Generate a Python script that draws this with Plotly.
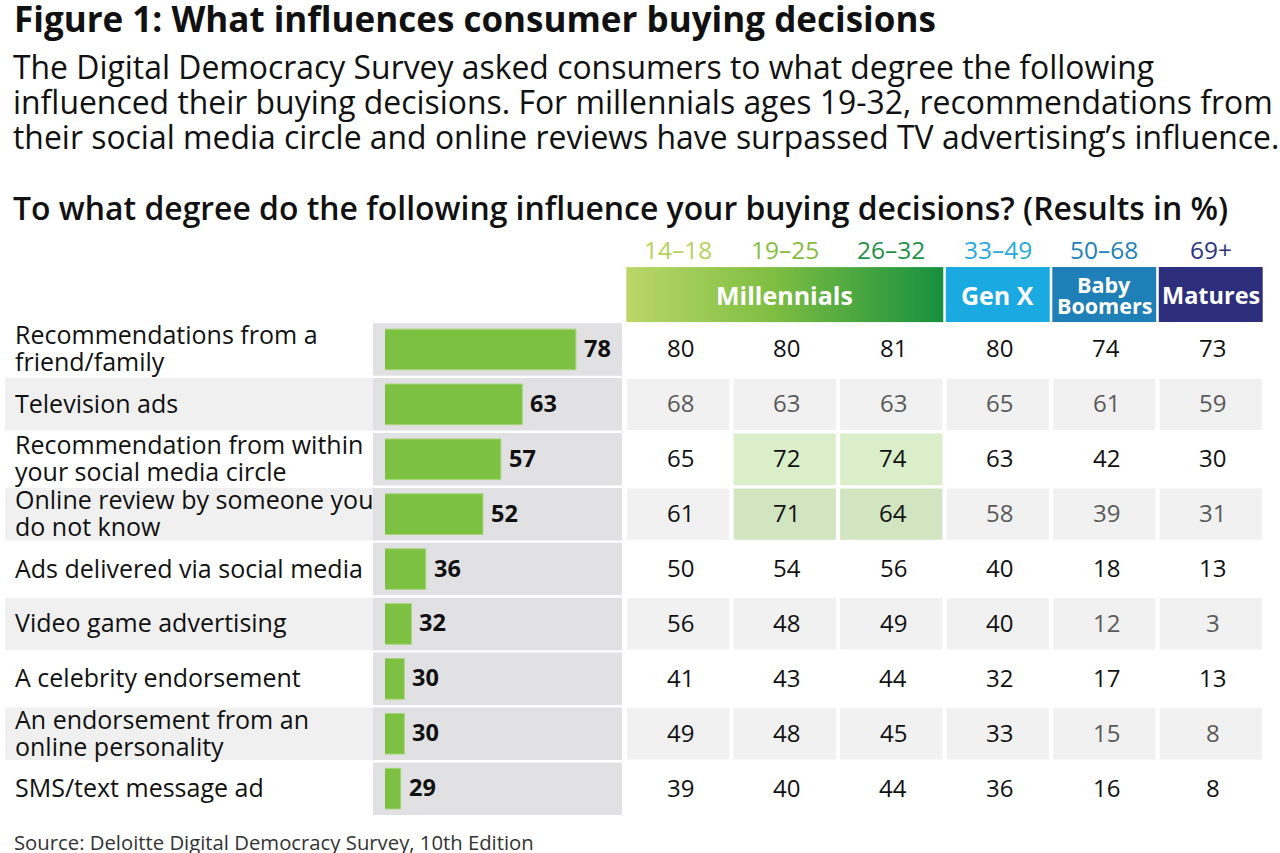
import plotly.graph_objects as go

W, H = 1280, 853

# ---------------- data ----------------
factors = [
    "Recommendations from a<br>friend/family",
    "Television ads",
    "Recommendation from within<br>your social media circle",
    "Online review by someone you<br>do not know",
    "Ads delivered via social media",
    "Video game advertising",
    "A celebrity endorsement",
    "An endorsement from an<br>online personality",
    "SMS/text message ad",
]
overall = [78, 63, 57, 52, 36, 32, 30, 30, 29]

age_groups = ["14–18", "19–25", "26–32", "33–49", "50–68", "69+"]
age_14_18 = [80, 68, 65, 61, 50, 56, 41, 49, 39]
age_19_25 = [80, 63, 72, 71, 54, 48, 43, 48, 40]
age_26_32 = [81, 63, 74, 64, 56, 49, 44, 45, 44]
age_33_49 = [80, 65, 63, 58, 40, 40, 32, 33, 36]
age_50_68 = [74, 61, 42, 39, 18, 12, 17, 15, 16]
age_69_plus = [73, 59, 30, 31, 13, 3, 13, 8, 8]

generations = ["Millennials", "Gen X", "Baby<br>Boomers", "Matures"]
generation_cols = [(0, 2), (3, 3), (4, 4), (5, 5)]

title = "Figure 1: What influences consumer buying decisions"
subtitle_lines = [
    "The Digital Democracy Survey asked consumers to what degree the following",
    "influenced their buying decisions. For millennials ages 19-32, recommendations from",
    "their social media circle and online reviews have surpassed TV advertising’s influence.",
]
question = "To what degree do the following influence your buying decisions? (Results in %)"
source = "Source: Deloitte Digital Democracy Survey, 10th Edition"

# ---------------- styles ----------------
FONT = "Open Sans"
age_colors = ["#b3d25a", "#86bd3f", "#1f9146", "#27a9e1", "#2181b8", "#2d3482"]
gen_colors = [None, "#1aa9e1", "#1f80b7", "#2d2f7c"]
gen_font_sizes = [25, 25, 21.5, 23.5]
shaded_rows = [1, 3, 5, 7]
muted_cells = {1: [0, 1, 2, 3, 4, 5], 3: [3, 4, 5], 5: [4, 5], 7: [4, 5]}
highlight_cells = {(2, 1): "#d9eec9", (2, 2): "#d9eec9", (3, 1): "#d1e5c1", (3, 2): "#d1e5c1"}

table = [age_14_18, age_19_25, age_26_32, age_33_49, age_50_68, age_69_plus]
rows = list(range(len(factors)))


def px(x):
    return x / W


def py(y):
    return 1 - y / H


ROW_TOP_PX, ROW_H_PX = 322, 54.9
Y_TOP = -2.3
Y_BOT = len(factors) - 0.5
dom_top = ROW_TOP_PX + (Y_TOP + 0.5) * ROW_H_PX
dom_bot = ROW_TOP_PX + (Y_BOT + 0.5) * ROW_H_PX
gap_y = 1.2 / ROW_H_PX
TXT_SHIFT = 1.5  # small upward nudge of row texts

fig = go.Figure()

# Millennials gradient header (heatmap used as a gradient fill)
ngrad = 120
fig.add_trace(go.Heatmap(
    z=[list(range(ngrad))], x0=-0.5 + 0.012 + (3 - 0.024) / ngrad / 2, dx=(3 - 0.024) / ngrad,
    y0=-1, dy=1,
    colorscale=[[0, "#bad76a"], [0.46, "#7fbe42"], [1, "#17903f"]],
    showscale=False, hoverinfo="skip", xaxis="x2", yaxis="y",
))

# bars
fig.add_trace(go.Bar(
    x=overall, y=rows, orientation="h", width=0.74,
    marker=dict(color="#7dc142", line=dict(color="#a6d57a", width=1)),
    hoverinfo="skip", xaxis="x", yaxis="y",
))

shapes = []
annotations = []

# left label backgrounds + bar column background
for r in rows:
    if r in shaded_rows:
        shapes.append(dict(type="rect", xref="paper", yref="y", x0=px(5), x1=px(373),
                           y0=r - 0.5 + gap_y, y1=r + 0.5 - gap_y,
                           fillcolor="#f0f0f0", line_width=0, layer="below"))
    shapes.append(dict(type="rect", xref="paper", yref="y", x0=px(373), x1=px(622),
                       y0=r - 0.5 + gap_y, y1=r + 0.5 - gap_y,
                       fillcolor="#e1e1e3", line_width=0, layer="below"))

# table cells
for r in rows:
    for c in range(len(table)):
        fill = highlight_cells.get((r, c))
        if fill is None and r in shaded_rows:
            fill = "#f1f1f1"
        if fill:
            shapes.append(dict(type="rect", xref="x2", yref="y",
                               x0=c - 0.5 + 0.02, x1=c + 0.5 - 0.02,
                               y0=r - 0.5 + gap_y * 1.5, y1=r + 0.5 - gap_y * 1.5,
                               fillcolor=fill, line_width=0, layer="below"))
        muted = c in muted_cells.get(r, [])
        annotations.append(dict(xref="x2", yref="y", x=c + 0.02, y=r, yshift=TXT_SHIFT,
                                text=str(table[c][r]),
                                showarrow=False, xanchor="center", yanchor="middle",
                                font=dict(family=FONT, size=24,
                                          color="#5a5a5a" if muted else "#111111")))

# generation header boxes
for g, (name, (c0, c1)) in enumerate(zip(generations, generation_cols)):
    if gen_colors[g]:
        shapes.append(dict(type="rect", xref="x2", yref="y", x0=c0 - 0.5 + 0.012, x1=c1 + 0.5 - 0.012,
                           y0=-1.5, y1=-0.5, fillcolor=gen_colors[g], line_width=0, layer="above"))
    parts = name.split("<br>")
    n = len(parts)
    for i, part in enumerate(parts):
        shift = (n - 1) / 2 * 21 - i * 21
        annotations.append(dict(xref="x2", yref="y", x=(c0 + c1) / 2, y=-1.0, yshift=shift,
                                text="<b>" + part + "</b>",
                                showarrow=False, xanchor="center", yanchor="middle",
                                font=dict(family=FONT, size=gen_font_sizes[g], color="white")))

# age group labels
for c, lab in enumerate(age_groups):
    annotations.append(dict(xref="x2", yref="y", x=c, y=-1.81, yshift=1, text=lab, showarrow=False,
                            xanchor="center", yanchor="middle",
                            font=dict(family=FONT, size=24.5, color=age_colors[c])))

# row labels (two-line labels placed line by line for tight leading)
for r, lab in enumerate(factors):
    parts = lab.split("<br>")
    n = len(parts)
    for i, part in enumerate(parts):
        shift = (n - 1) / 2 * 27 - i * 27 + TXT_SHIFT
        annotations.append(dict(xref="paper", yref="y", x=px(13), y=r, yshift=shift, text=part,
                                showarrow=False, xanchor="left", yanchor="middle", align="left",
                                font=dict(family=FONT, size=25, color="#111111")))

# bar value labels
for r, v in enumerate(overall):
    annotations.append(dict(xref="x", yref="y", x=v, y=r, text="<b>%d</b>" % v, showarrow=False,
                            xanchor="left", yanchor="middle", xshift=6, yshift=TXT_SHIFT,
                            font=dict(family=FONT, size=23.5, color="#111111")))

# titles
annotations.append(dict(xref="paper", yref="paper", x=px(12), y=py(18), text="<b>" + title + "</b>",
                        showarrow=False, xanchor="left", yanchor="middle",
                        font=dict(family=FONT, size=35, color="#111111")))
for i, line in enumerate(subtitle_lines):
    annotations.append(dict(xref="paper", yref="paper", x=px(11), y=py(66.5 + 35 * i), text=line,
                            showarrow=False, xanchor="left", yanchor="middle",
                            font=dict(family=FONT, size=31.9, color="#111111")))
annotations.append(dict(xref="paper", yref="paper", x=px(11), y=py(207), text=question,
                        showarrow=False, xanchor="left", yanchor="middle",
                        font=dict(family=FONT, size=31.9, color="#111111", weight=600)))
annotations.append(dict(xref="paper", yref="paper", x=px(12), y=py(842), text=source,
                        showarrow=False, xanchor="left", yanchor="middle",
                        font=dict(family=FONT, size=20.3, color="#333333")))

fig.update_layout(
    width=W, height=H, margin=dict(l=0, r=0, t=0, b=0),
    paper_bgcolor="white", plot_bgcolor="rgba(0,0,0,0)", showlegend=False,
    xaxis=dict(domain=[px(385), px(622)], range=[24.6, 90.9], visible=False, fixedrange=True),
    xaxis2=dict(domain=[px(625), px(1264)], range=[-0.5, 5.5], visible=False, fixedrange=True,
                anchor="y"),
    yaxis=dict(domain=[py(dom_bot), py(dom_top)], range=[Y_BOT, Y_TOP], visible=False,
               fixedrange=True),
    shapes=shapes, annotations=annotations,
)

fig.write_html(
    "out.html",
    config={"displayModeBar": False},
    post_script="document.body.style.margin='0px'; document.body.style.overflow='hidden';",
)
